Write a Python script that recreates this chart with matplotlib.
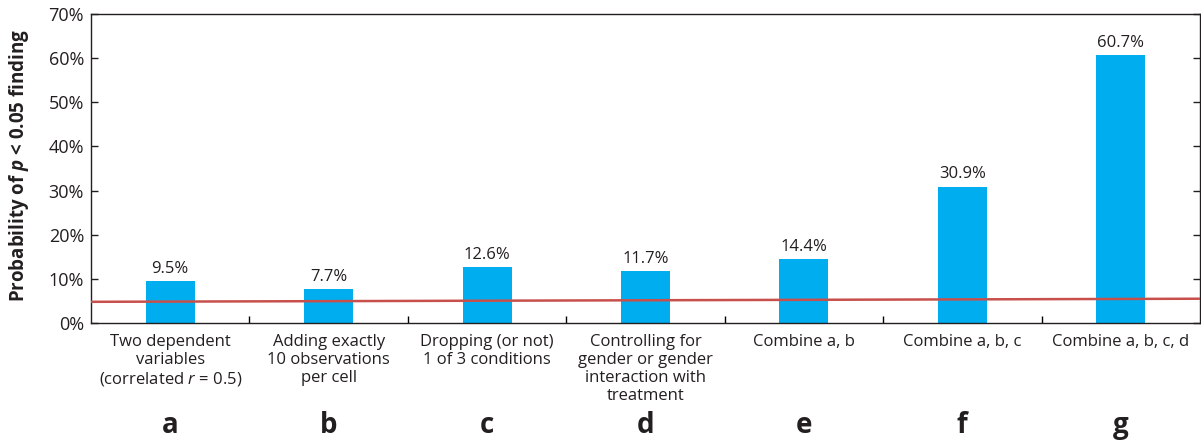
import numpy as np
import matplotlib
matplotlib.use("Agg")
from matplotlib import pyplot as plt

plt.rcParams['font.family'] = ['Open Sans', 'DejaVu Sans']
plt.rcParams['mathtext.fontset'] = 'custom'
plt.rcParams['mathtext.it'] = 'Open Sans:italic'
plt.rcParams['mathtext.bfit'] = 'Open Sans:italic:bold'
plt.rcParams['mathtext.rm'] = 'Open Sans'

letters = ['a', 'b', 'c', 'd', 'e', 'f', 'g']
descriptions = ['Two dependent\nvariables\n(correlated $\\mathit{r}$ = 0.5)',
                'Adding exactly\n10 observations\nper cell',
                'Dropping (or not)\n1 of 3 conditions',
                'Controlling for\ngender or gender\ninteraction with\ntreatment',
                'Combine a, b',
                'Combine a, b, c',
                'Combine a, b, c, d']
probs = [9.5, 7.7, 12.6, 11.7, 14.4, 30.9, 60.7]
# red reference line near 5% (slightly tilted in the original)
ref_x = [-0.5, 6.5]
ref_y = [4.8, 5.5]
yticks = [0, 10, 20, 30, 40, 50, 60, 70]

fig = plt.figure(figsize=(12.01, 4.42), dpi=100)
ax = fig.add_axes([91/1201, 1-323/442, 1109/1201, 309/442])

x = np.arange(len(probs))
ax.bar(x, probs, width=0.31, color='#00adef', zorder=2)
for xi, v in zip(x, probs):
    ax.annotate('%.1f%%' % v, xy=(xi, v), xytext=(0, 3), textcoords='offset points',
                ha='center', va='bottom', fontsize=12, color='#231f20')
ax.plot(ref_x, ref_y, color='#c8504c', lw=1.8, zorder=3)

ax.set_xlim(-0.5, 6.5)
ax.set_ylim(0, 70)
ax.set_yticks(yticks)
ax.set_yticklabels(['%d%%' % t for t in yticks])
ax.tick_params(axis='y', direction='in', length=5, width=1, right=True,
               labelsize=13, pad=5, colors='#231f20')

# boundaries get the ticks, centers get the labels
ax.set_xticks(np.arange(0.5, 6, 1))
ax.set_xticklabels([])
ax.tick_params(axis='x', which='major', direction='in', length=5, width=1)
ax.set_xticks(x, minor=True)
ax.set_xticklabels(descriptions, minor=True, fontsize=12, linespacing=1.17,
                   color='#231f20', va='top')
ax.tick_params(axis='x', which='minor', length=0, pad=8)

for xi, l in zip(x, letters):
    ax.annotate(l, xy=(xi, 0), xycoords=('data', 'axes fraction'),
                xytext=(0, -79), textcoords='offset points', ha='center',
                va='baseline', fontsize=20, fontweight='bold', color='#231f20')

for s in ax.spines.values():
    s.set_linewidth(1)
    s.set_color('#231f20')

ax.set_ylabel('Probability of $\\mathbfit{p}$ < 0.05 finding', fontsize=13.5,
              fontweight='bold', color='#231f20')
ax.yaxis.set_label_coords(-60/1109, 0.51)

fig.savefig('out.png', dpi=100)
